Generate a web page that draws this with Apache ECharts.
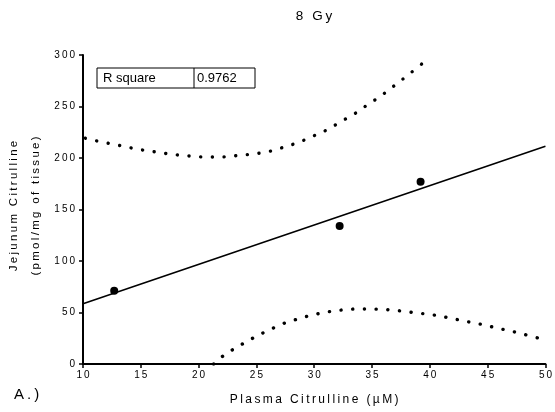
<!DOCTYPE html>
<html>
<head>
<meta charset="utf-8">
<script src="https://cdn.jsdelivr.net/npm/echarts@6/dist/echarts.min.js"></script>
<style>
  html, body { margin: 0; padding: 0; background: #fff; }
  #chart { width: 555px; height: 412px; }
</style>
</head>
<body>
<div id="chart"></div>
<script>
// Measured points: plasma citrulline (µM) vs jejunum citrulline (pmol/mg of tissue)
const plasma = [12.7, 32.2, 39.2];
const jejunum = [71, 134, 177];

// Linear fit evaluated at the ends of the x axis
const fitX = [10, 50];
const fitY = [58.5, 211.5];

// Upper band (dotted)
const upperX = [10.2, 11.5, 12.5, 13.5, 14.5, 15.5, 16.5, 17.5, 18.5, 19.5, 20.5, 21.5, 22.5, 23.5, 24.5,
  25.5, 26.5, 27.5, 28.5, 29.4, 30.3, 31.3, 32.1, 33.0, 33.9, 34.7, 35.6, 36.4, 37.2, 38.0, 38.8, 39.7];
const upperY = [219.2, 215.8, 213.6, 211.4, 209.0, 207.1, 205.5, 203.9, 202.6, 201.7, 201.0, 201.0, 201.3, 202.6, 203.6,
  205.1, 207.5, 211.0, 214.6, 218.7, 223.3, 228.4, 234.0, 239.8, 245.9, 252.4, 258.9, 265.7, 272.5, 279.6, 286.7, 295.0];

// Lower band (dotted)
const lowerX = [21.3, 22.3, 23.2, 24.1, 25.0, 25.9, 26.8, 27.7, 28.7, 29.7, 30.7, 31.7, 32.7, 33.7, 34.7, 35.7,
  36.7, 37.7, 38.7, 39.7, 40.7, 41.7, 42.7, 43.7, 44.7, 45.7, 46.7, 47.7, 48.7, 50.0];
const lowerY = [0, 9.4, 15.5, 21.4, 26.9, 32.0, 36.6, 40.8, 44.0, 47.3, 49.5, 51.5, 52.7, 53.4, 53.4, 53.1,
  52.4, 51.2, 49.8, 48.5, 46.9, 44.7, 42.4, 40.1, 37.9, 35.2, 32.7, 30.1, 27.2, 23.3];

// Axis settings and texts
const xTicks = { min: 10, max: 50, step: 5 };
const yTicks = { min: 0, max: 300, step: 50 };
const titleText = '8 Gy';
const xTitle = 'Plasma Citrulline (µM)';
const yTitle = ['Jejunum Citrulline', '(pmol/mg of tissue)'];
const panelTag = 'A.)';
const statLabel = 'R square';
const statValue = '0.9762';

const FONT = "'Liberation Sans', Arial, sans-serif";
// Widen text tracking with thin spaces between characters
const spaced = s => Array.from(String(s)).join('\u2009');

const zip = (a, b) => a.map((v, i) => [v, b[i]]);

const chart = echarts.init(document.getElementById('chart'), null, { renderer: 'canvas' });

const dotted = {
  color: '#000',
  width: 3.4,
  type: [0.1, 11.6],
  cap: 'round'
};

chart.setOption({
  animation: false,
  backgroundColor: '#fff',
  grid: { left: 83, right: 9, top: 55, bottom: 48, containLabel: false },
  xAxis: {
    type: 'value',
    min: xTicks.min, max: xTicks.max, interval: xTicks.step,
    name: spaced(xTitle),
    nameLocation: 'middle',
    nameGap: 30,
    nameTextStyle: { fontFamily: FONT, fontSize: 12, color: '#000' },
    axisLine: { show: true, onZero: false, lineStyle: { color: '#000', width: 2 } },
    axisTick: { show: true, length: 4, lineStyle: { color: '#000', width: 1.5 } },
    axisLabel: { fontFamily: FONT, fontSize: 10, color: '#000', margin: 6, formatter: v => spaced(v) },
    splitLine: { show: false }
  },
  yAxis: {
    type: 'value',
    min: yTicks.min, max: yTicks.max, interval: yTicks.step,
    axisLine: { show: true, onZero: false, lineStyle: { color: '#000', width: 2 } },
    axisTick: { show: true, length: 4, lineStyle: { color: '#000', width: 1.5 } },
    axisLabel: { fontFamily: FONT, fontSize: 10, color: '#000', margin: 8, formatter: v => spaced(v) },
    splitLine: { show: false }
  },
  graphic: [
    {
      type: 'text', x: 314, y: 16,
      style: {
        text: spaced(titleText), fontFamily: FONT, fontSize: 13.5, fill: '#000',
        align: 'center', verticalAlign: 'middle'
      }
    },
    {
      type: 'text', x: 25, y: 206, rotation: Math.PI / 2,
      style: {
        text: spaced(yTitle[0]) + '\n' + spaced(yTitle[1]),
        fontFamily: FONT, fontSize: 11.5, lineHeight: 22, fill: '#000',
        align: 'center', verticalAlign: 'middle'
      }
    },
    {
      type: 'text', x: 14, y: 395,
      style: { text: spaced(panelTag), fontFamily: FONT, fontSize: 15, fill: '#000', verticalAlign: 'middle' }
    },
    {
      type: 'group', x: 97, y: 68,
      children: [
        { type: 'rect', shape: { x: 0, y: 0, width: 158, height: 20 },
          style: { fill: '#fff', stroke: '#000', lineWidth: 1 } },
        { type: 'line', shape: { x1: 97, y1: 0, x2: 97, y2: 20 },
          style: { stroke: '#000', lineWidth: 1 } },
        { type: 'text', x: 6, y: 10,
          style: { text: statLabel, fontFamily: FONT, fontSize: 13, fill: '#000', verticalAlign: 'middle' } },
        { type: 'text', x: 100, y: 10,
          style: { text: statValue, fontFamily: FONT, fontSize: 13, fill: '#000', verticalAlign: 'middle' } }
      ]
    }
  ],
  series: [
    {
      type: 'line', data: zip(upperX, upperY), smooth: true, showSymbol: false,
      lineStyle: dotted, clip: true, z: 2
    },
    {
      type: 'line', data: zip(lowerX, lowerY), smooth: true, showSymbol: false,
      lineStyle: dotted, clip: true, z: 2
    },
    {
      type: 'line', data: zip(fitX, fitY), showSymbol: false,
      lineStyle: { color: '#000', width: 1.6 }, z: 3
    },
    {
      type: 'scatter', data: zip(plasma, jejunum), symbol: 'circle', symbolSize: 8,
      itemStyle: { color: '#000', opacity: 1 }, z: 4
    }
  ]
});
</script>
</body>
</html>
